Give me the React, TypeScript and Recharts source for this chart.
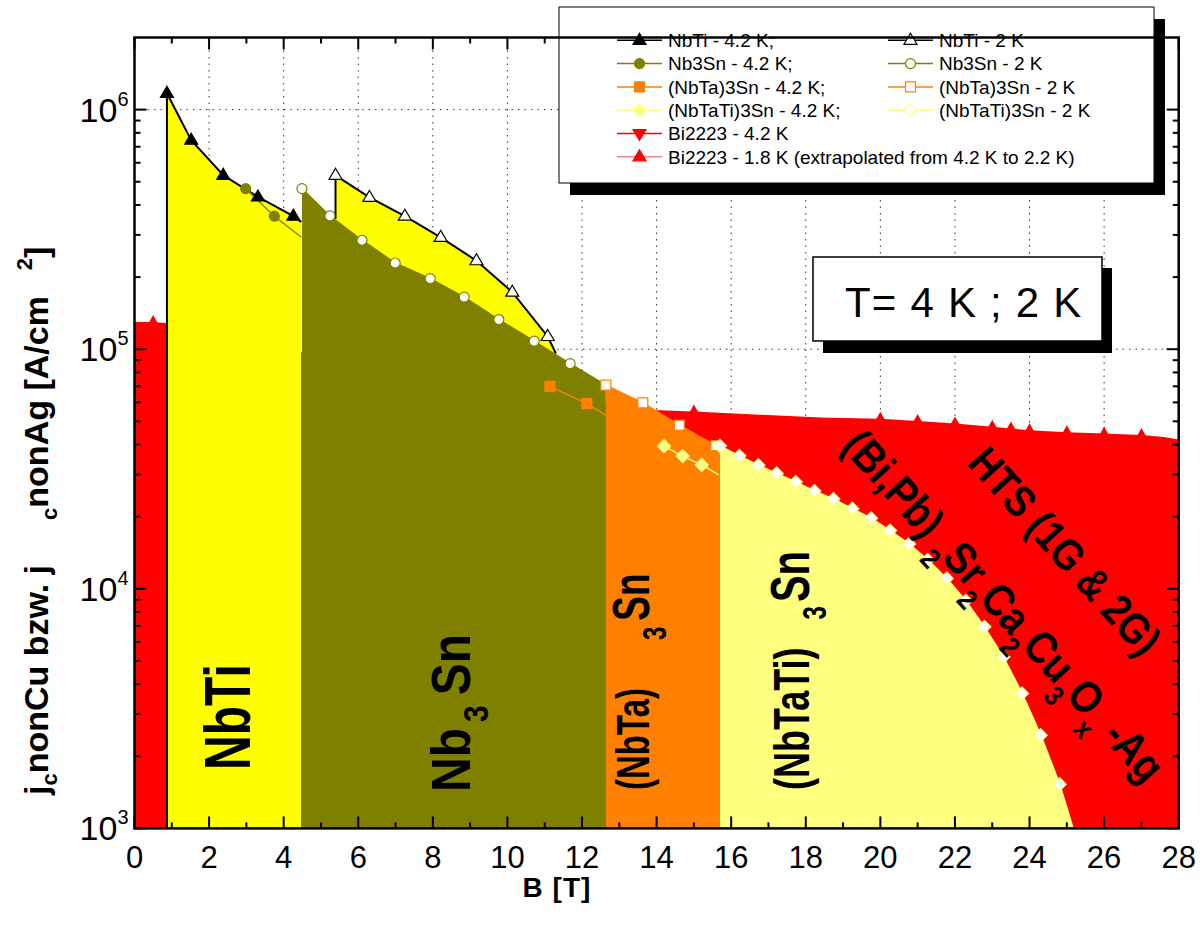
import React from 'react';
import { ComposedChart, Area, Line, XAxis, YAxis, CartesianGrid } from 'recharts';

const W = 1201;
const H = 925;
// plot area: x 134.5 → 1178.7, y 37.5 → 828.4 (axes are 1px wide)
const MARGIN = { top: 36.5, right: 21.3, bottom: 95.6, left: 133.5 };
const FONT = '"Liberation Sans", Arial, Helvetica, sans-serif';

const OLIVE = '#808000';
const ORANGE = '#ff8000';
const YELLOW = '#ffff00';
const LIGHT = '#ffff80';
const RED = '#ff0000';

// ── axes ───────────────────────────────────────────────────────
const xTicks = [0, 1, 2, 3, 4, 5, 6, 7, 8, 9, 10, 11, 12, 13, 14, 15, 16, 17, 18, 19, 20, 21, 22, 23, 24, 25, 26, 27, 28];
const xGrid = [2, 4, 6, 8, 10, 12, 14, 16, 18, 20, 22, 24, 26];
const yTicks = [
  1000, 2000, 3000, 4000, 5000, 6000, 7000, 8000, 9000,
  10000, 20000, 30000, 40000, 50000, 60000, 70000, 80000, 90000,
  100000, 200000, 300000, 400000, 500000, 600000, 700000, 800000, 900000,
  1000000,
];
const yGrid = [10000, 100000, 1000000];
const yDomain = [1000, 2000000];

// ── data: B [T], jc [A/cm²], marker shown (1) or curve end only (0) ──
const nbti42B = [0.87, 0.87, 1.52, 2.38, 3.31, 4.26, 4.47];
const nbti42J = [1000, 1.17e6, 7.45e5, 5.32e5, 4.32e5, 3.59e5, 3.4e5];
const nbti42M = [0, 1, 1, 1, 1, 1, 0];

const nbti2B = [5.39, 5.39, 6.3, 7.25, 8.21, 9.17, 10.13, 11.08, 11.3];
const nbti2J = [3.5e5, 5.32e5, 4.3e5, 3.59e5, 2.93e5, 2.34e5, 1.73e5, 1.13e5, 9.6e4];
const nbti2M = [0, 1, 1, 1, 1, 1, 1, 1, 0];

const nb3sn42B = [2.98, 3.75, 4.47];
const nb3sn42J = [4.68e5, 3.59e5, 2.94e5];
const nb3sn42M = [1, 1, 0];

const nb3sn2B = [4.49, 5.24, 6.1, 6.99, 7.93, 8.84, 9.77, 10.72, 11.68, 12.64];
const nb3sn2J = [4.68e5, 3.6e5, 2.85e5, 2.29e5, 1.97e5, 1.65e5, 1.33e5, 1.08e5, 8.7e4, 7.08e4];
const nb3sn2M = [1, 1, 1, 1, 1, 1, 1, 1, 1, 0];

const nbta42B = [11.14, 12.13, 12.64];
const nbta42J = [7.0e4, 5.93e4, 5.31e4];
const nbta42M = [1, 1, 0];

const nbta2B = [12.64, 13.63, 14.61, 15.59, 15.7];
const nbta2J = [7.08e4, 5.97e4, 4.82e4, 3.96e4, 3.95e4];
const nbta2M = [1, 1, 1, 1, 0];

const nbtati42B = [14.2, 14.7, 15.21, 15.67];
const nbtati42J = [3.94e4, 3.58e4, 3.29e4, 2.99e4];
const nbtati42M = [1, 1, 1, 0];

const nbtati2B = [15.7, 16.22, 16.73, 17.22, 17.73, 18.23, 18.74, 19.25, 19.75, 20.26, 20.77, 21.27, 21.78, 22.29, 22.79, 23.3, 23.8, 24.3, 24.81, 25.17];
const nbtati2J = [3.95e4, 3.59e4, 3.28e4, 3.03e4, 2.79e4, 2.56e4, 2.37e4, 2.16e4, 1.97e4, 1.75e4, 1.54e4, 1.32e4, 1.105e4, 8910, 6940, 5200, 3660, 2450, 1530, 1000];
const nbtati2M = [1, 1, 1, 1, 1, 1, 1, 1, 1, 1, 1, 1, 1, 1, 1, 1, 1, 1, 1, 0];

const bi18B = [0, 0.5, 1, 4, 8, 12, 13.9, 15, 16.5, 18.4, 20, 21, 22, 23, 23.5, 24, 25, 26, 27, 27.6, 28];
const bi18J = [1.3e5, 1.3e5, 1.28e5, 1.0e5, 7.8e4, 6.2e4, 5.58e4, 5.5e4, 5.35e4, 5.19e4, 5.12e4, 5.02e4, 4.9e4, 4.75e4, 4.67e4, 4.59e4, 4.5e4, 4.45e4, 4.38e4, 4.3e4, 4.2e4];
const bi18M = [0, 1, 0, 0, 0, 0, 0, 1, 0, 0, 1, 1, 1, 1, 1, 1, 1, 1, 1, 0, 0];

const pts = (b: number[], j: number[], m: number[]) => b.map((x, i) => ({ x, y: j[i], m: m[i] }));

const nbti42 = pts(nbti42B, nbti42J, nbti42M);
const nbti2 = pts(nbti2B, nbti2J, nbti2M);
const nb3sn42 = pts(nb3sn42B, nb3sn42J, nb3sn42M);
const nb3sn2 = pts(nb3sn2B, nb3sn2J, nb3sn2M);
const nbta42 = pts(nbta42B, nbta42J, nbta42M);
const nbta2 = pts(nbta2B, nbta2J, nbta2M);
const nbtati42 = pts(nbtati42B, nbtati42J, nbtati42M);
const nbtati2 = pts(nbtati2B, nbtati2J, nbtati2M);
const bi18 = pts(bi18B, bi18J, bi18M);

// ── markers ───────────────────────────────────────────────────
function Marker({ kind, cx, cy, fill, stroke, sw = 1.2 }: any) {
  if (kind === 'tri')
    return <path d={`M${cx},${cy - 7} L${cx + 6.5},${cy + 4} L${cx - 6.5},${cy + 4} Z`} fill={fill} stroke={stroke} strokeWidth={sw} />;
  if (kind === 'triDown')
    return <path d={`M${cx},${cy + 7} L${cx + 6.5},${cy - 4} L${cx - 6.5},${cy - 4} Z`} fill={fill} stroke={stroke} strokeWidth={sw} />;
  if (kind === 'smallTri')
    return <path d={`M${cx},${cy - 7} L${cx + 4.5},${cy + 1} L${cx - 4.5},${cy + 1} Z`} fill={fill} stroke="none" />;
  if (kind === 'circle') return <circle cx={cx} cy={cy} r={5} fill={fill} stroke={stroke} strokeWidth={sw} />;
  if (kind === 'square') return <rect x={cx - 5} y={cy - 5} width={10} height={10} fill={fill} stroke={stroke} strokeWidth={sw} />;
  return <path d={`M${cx},${cy - 6.5} L${cx + 6.5},${cy} L${cx},${cy + 6.5} L${cx - 6.5},${cy} Z`} fill={fill} stroke={stroke} strokeWidth={sw} />;
}

const dot = (kind: string, fill: string, stroke: string) => (p: any) => {
  const { cx, cy, payload, index } = p;
  if (!payload || !payload.m || cx == null || cy == null) return <g key={`n${index}`} />;
  return <Marker key={`m${index}`} kind={kind} cx={cx} cy={cy} fill={fill} stroke={stroke} />;
};

// ── ticks (all pointing into the plot) ────────────────────────
const isMajorY = (v: number) => Math.abs(Math.log10(v) - Math.round(Math.log10(v))) < 1e-6;

function BottomTick({ x, y, payload }: any) {
  const v = payload.value;
  const major = v % 2 === 0;
  return (
    <g>
      <line x1={x} x2={x} y1={y} y2={y - (major ? 12 : 6)} stroke="#000" strokeWidth={2} />
      {major && (
        <text x={x} y={y + 40} textAnchor="middle" fontSize={31} fontFamily={FONT} fill="#000">{v}</text>
      )}
    </g>
  );
}

function TopTick({ x, y, payload }: any) {
  const major = payload.value % 2 === 0;
  return <line x1={x} x2={x} y1={y} y2={y + (major ? 12 : 6)} stroke="#000" strokeWidth={2} />;
}

function LeftTick({ x, y, payload }: any) {
  const v = payload.value;
  const major = isMajorY(v);
  return (
    <g>
      <line x1={x} x2={x + (major ? 12 : 6)} y1={y} y2={y} stroke="#000" strokeWidth={2} />
      {major && (
        <text x={x - 6} y={y + 12} textAnchor="end" fontSize={34} fontFamily={FONT} fill="#000">
          10<tspan dy={-16} fontSize={20}>{Math.round(Math.log10(v))}</tspan>
        </text>
      )}
    </g>
  );
}

function RightTick({ x, y, payload }: any) {
  const major = isMajorY(payload.value);
  return <line x1={x} x2={x - (major ? 12 : 6)} y1={y} y2={y} stroke="#000" strokeWidth={2} />;
}

// ── legend ────────────────────────────────────────────────────
const legendItems = [
  { label: 'NbTi - 4.2 K;', col: 0, row: 0, kind: 'tri', fill: '#000', stroke: '#000', line: '#000' },
  { label: 'NbTi - 2 K', col: 1, row: 0, kind: 'tri', fill: '#fff', stroke: '#000', line: '#000' },
  { label: 'Nb3Sn - 4.2 K;', col: 0, row: 1, kind: 'circle', fill: OLIVE, stroke: OLIVE, line: OLIVE },
  { label: 'Nb3Sn - 2 K', col: 1, row: 1, kind: 'circle', fill: '#fff', stroke: OLIVE, line: OLIVE },
  { label: '(NbTa)3Sn - 4.2 K;', col: 0, row: 2, kind: 'square', fill: ORANGE, stroke: ORANGE, line: ORANGE },
  { label: '(NbTa)3Sn - 2 K', col: 1, row: 2, kind: 'square', fill: '#fff', stroke: ORANGE, line: ORANGE },
  { label: '(NbTaTi)3Sn - 4.2 K;', col: 0, row: 3, kind: 'diamond', fill: LIGHT, stroke: LIGHT, line: LIGHT },
  { label: '(NbTaTi)3Sn - 2 K', col: 1, row: 3, kind: 'diamond', fill: '#fff', stroke: LIGHT, line: LIGHT },
  { label: 'Bi2223 - 4.2 K', col: 0, row: 4, kind: 'triDown', fill: RED, stroke: RED, line: RED },
  { label: 'Bi2223 - 1.8 K (extrapolated from 4.2 K to 2.2 K)', col: 0, row: 5, kind: 'tri', fill: RED, stroke: RED, line: '#ff8080' },
];

function Overlay() {
  const lx = [617, 888];
  const ly0 = 40.3;
  const dy = 23.3;
  const bold = { fontFamily: FONT, fontWeight: 700, fill: '#000' } as const;
  return (
    <svg width={W} height={H} style={{ position: 'absolute', left: 0, top: 0, pointerEvents: 'none' }}>
      {/* legend box */}
      <rect x={570} y={19} width={595} height={176} fill="#000" />
      <rect x={559} y={7} width={595} height={176} fill="#fff" stroke="#000" strokeWidth={1} />
      {legendItems.map((it) => {
        const x = lx[it.col];
        const y = ly0 + it.row * dy;
        return (
          <g key={it.label}>
            <line x1={x} x2={x + 45} y1={y} y2={y} stroke={it.line} strokeWidth={1.5} />
            <Marker kind={it.kind} cx={x + 22.5} cy={y} fill={it.fill} stroke={it.stroke} />
            <text x={x + 51} y={y + 6.7} fontSize={19} fontFamily={FONT} fill="#000">{it.label}</text>
          </g>
        );
      })}

      {/* temperature box */}
      <rect x={823} y={268} width={289} height={85} fill="#000" />
      <rect x={813} y={257} width={289} height={84} fill="#fff" stroke="#000" strokeWidth={1.5} />
      <text x={845} y={317} fontSize={42} letterSpacing={1.2} fontFamily={FONT} fill="#000">T= 4 K ; 2 K</text>

      {/* region labels (condensed, tall glyphs) */}
      <text transform="translate(250,770) rotate(-90) scale(1,1.35)" fontSize={48} {...bold}>NbTi</text>
      <text transform="translate(470,792) rotate(-90) scale(1,1.15)" fontSize={48} {...bold}>
        Nb<tspan dx={6} dy={16} fontSize={30}>3</tspan><tspan dx={10} dy={-16}>Sn</tspan>
      </text>
      <text transform="translate(649,790) rotate(-90) scale(1,1.4)" fontSize={33} {...bold}>
        (NbTa)<tspan dx={48} dy={12} fontSize={24}>3</tspan><tspan dx={6} dy={-12} fontSize={37}>Sn</tspan>
      </text>
      <text transform="translate(809,790) rotate(-90) scale(1,1.4)" fontSize={36} {...bold}>
        (NbTaTi)<tspan dx={28} dy={12} fontSize={24}>3</tspan><tspan dx={4} dy={-12} fontSize={40}>Sn</tspan>
      </text>
      <text transform="translate(840,447) rotate(48) scale(1,1.15)" fontSize={39} {...bold}>
        (Bi,Pb) <tspan dy={15} fontSize={25}>2</tspan><tspan dy={-15}>Sr</tspan>
        <tspan dy={15} fontSize={25}>2</tspan><tspan dy={-15}>Ca</tspan>
        <tspan dy={15} fontSize={25}>2</tspan><tspan dy={-15}>Cu</tspan>
        <tspan dy={15} fontSize={25}>3</tspan><tspan dy={-15}>O</tspan>
        <tspan dy={15} fontSize={25}>x</tspan><tspan dy={-15}> -Ag</tspan>
      </text>
      <text transform="translate(966,464) rotate(48) scale(1,1.15)" fontSize={38} {...bold}>HTS (1G &amp; 2G)</text>

      {/* axis titles */}
      <text x={557} y={897} textAnchor="middle" fontSize={28} letterSpacing={1} {...bold}>B [T]</text>
      <text transform="translate(48,795) rotate(-90)" fontSize={34} {...bold}>
        j<tspan dy={9} fontSize={22}>c</tspan><tspan dy={-9}>nonCu bzw. j</tspan>
        <tspan dx={45} dy={9} fontSize={22}>c</tspan><tspan dy={-9}>nonAg [A/cm</tspan>
        <tspan dx={26} dy={-16} fontSize={22}>2</tspan><tspan dy={16}>]</tspan>
      </text>

      {/* plot frame */}
      <rect x={134.5} y={37.5} width={1044.2} height={790.9} fill="none" stroke="#000" strokeWidth={2.5} />
    </svg>
  );
}

const axisProps = { tickSize: 0, tickMargin: 0, tickLine: false, interval: 0, allowDataOverflow: true, axisLine: false } as const;

export default function App() {
  return (
    <div style={{ position: 'absolute', left: 0, top: 0, width: W, height: H, background: '#fff' }}>
      <ComposedChart width={W} height={H} margin={MARGIN}>
        <CartesianGrid stroke="#333" strokeDasharray="1.5 5" verticalValues={xGrid} horizontalValues={yGrid} />
        <XAxis type="number" dataKey="x" domain={[0, 28]} ticks={xTicks} height={1} {...axisProps}
          tick={(p: any) => <BottomTick {...p} />} />
        <XAxis xAxisId="top" orientation="top" type="number" dataKey="x" domain={[0, 28]} ticks={xTicks} height={1} {...axisProps}
          tick={(p: any) => <TopTick {...p} />} />
        <YAxis scale="log" type="number" domain={yDomain} ticks={yTicks} width={1} {...axisProps}
          tick={(p: any) => <LeftTick {...p} />} />
        <YAxis yAxisId="right" orientation="right" scale="log" type="number" domain={yDomain} ticks={yTicks} width={1} {...axisProps}
          tick={(p: any) => <RightTick {...p} />} />

        <Area data={bi18} dataKey="y" type="linear" fill={RED} fillOpacity={1} stroke="none" baseValue={1000} dot={dot('smallTri', RED, RED)} activeDot={false} isAnimationActive={false} />
        <Area data={nbti42} dataKey="y" type="linear" fill={YELLOW} fillOpacity={1} stroke="none" baseValue={1000} dot={false} activeDot={false} isAnimationActive={false} />
        <Area data={nbti2} dataKey="y" type="linear" fill={YELLOW} fillOpacity={1} stroke="none" baseValue={1000} dot={false} activeDot={false} isAnimationActive={false} />
        <Area data={nb3sn2} dataKey="y" type="linear" fill={OLIVE} fillOpacity={1} stroke="none" baseValue={1000} dot={false} activeDot={false} isAnimationActive={false} />
        <Area data={nbta2} dataKey="y" type="linear" fill={ORANGE} fillOpacity={1} stroke="none" baseValue={1000} dot={false} activeDot={false} isAnimationActive={false} />
        <Area data={nbtati2} dataKey="y" type="linear" fill={LIGHT} fillOpacity={1} stroke="none" baseValue={1000} dot={false} activeDot={false} isAnimationActive={false} />

        <Line data={nbti42} dataKey="y" type="linear" stroke="#000" strokeWidth={2} dot={dot('tri', '#000', '#000')} activeDot={false} isAnimationActive={false} />
        <Line data={nbti2} dataKey="y" type="linear" stroke="#000" strokeWidth={2} dot={dot('tri', '#fff', '#000')} activeDot={false} isAnimationActive={false} />
        <Line data={nb3sn42} dataKey="y" type="linear" stroke={OLIVE} strokeWidth={1.5} dot={dot('circle', OLIVE, OLIVE)} activeDot={false} isAnimationActive={false} />
        <Line data={nb3sn2} dataKey="y" type="linear" stroke={OLIVE} strokeWidth={1.5} dot={dot('circle', '#fff', OLIVE)} activeDot={false} isAnimationActive={false} />
        <Line data={nbta42} dataKey="y" type="linear" stroke={ORANGE} strokeWidth={1.5} dot={dot('square', ORANGE, ORANGE)} activeDot={false} isAnimationActive={false} />
        <Line data={nbta2} dataKey="y" type="linear" stroke={ORANGE} strokeWidth={1.5} dot={dot('square', '#fff', ORANGE)} activeDot={false} isAnimationActive={false} />
        <Line data={nbtati42} dataKey="y" type="linear" stroke={LIGHT} strokeWidth={1.5} dot={dot('diamond', LIGHT, LIGHT)} activeDot={false} isAnimationActive={false} />
        <Line data={nbtati2} dataKey="y" type="linear" stroke={LIGHT} strokeWidth={1.5} dot={dot('diamond', '#fff', LIGHT)} activeDot={false} isAnimationActive={false} />
      </ComposedChart>
      <Overlay />
    </div>
  );
}
